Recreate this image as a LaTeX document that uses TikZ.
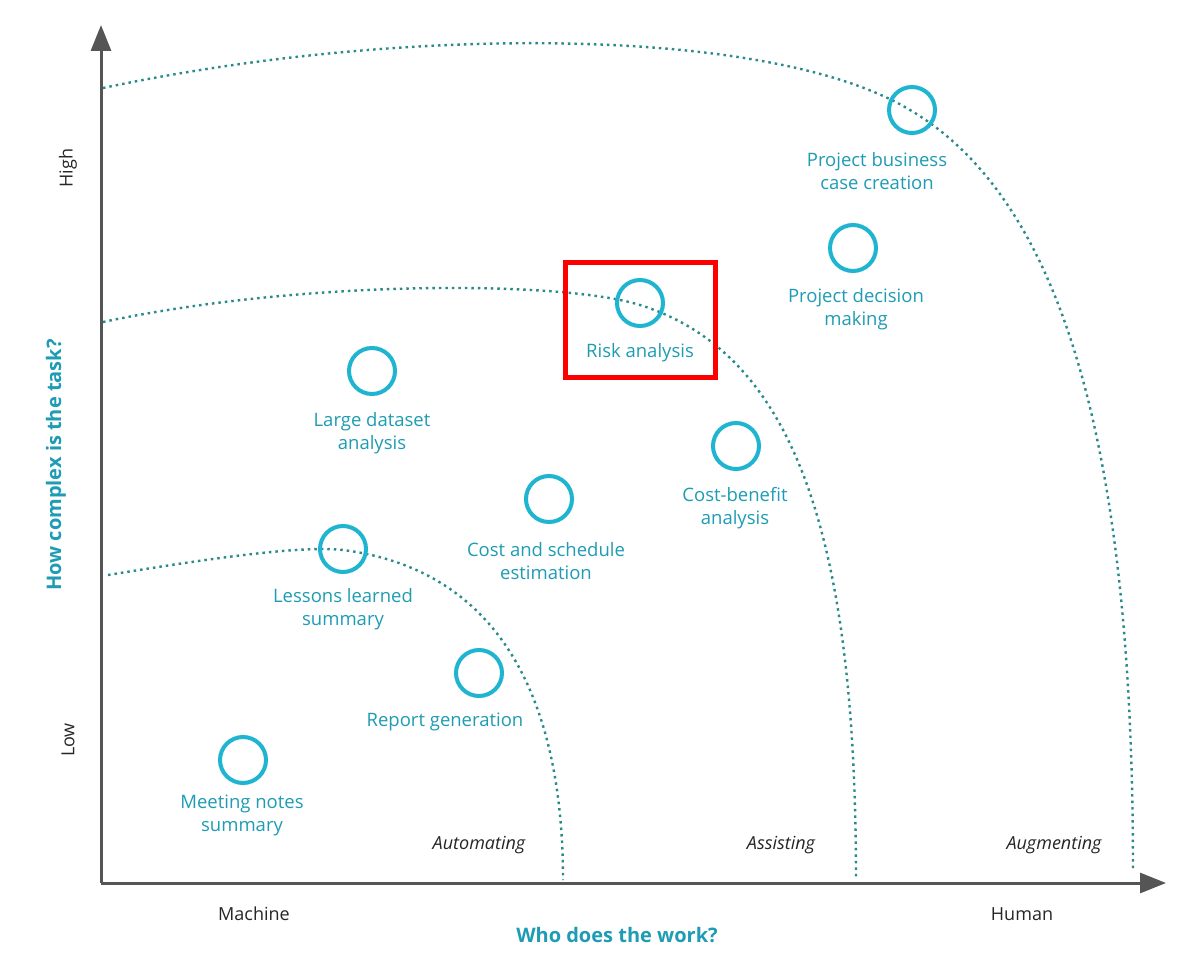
\documentclass[tikz,border=0pt]{standalone}
\usepackage{fontspec}
\setmainfont{Open Sans}
\usetikzlibrary{arrows.meta}
\definecolor{teal1}{HTML}{1FB5D0}
\definecolor{teal2}{HTML}{1E9CB4}
\definecolor{dotc}{HTML}{2A8A8A}
\definecolor{axc}{HTML}{555555}
\tikzset{
 dot/.style={circle,draw=teal1,line width=4pt,minimum size=46pt,inner sep=0pt},
 lbl/.style={text=teal2,font=\fontsize{18.5}{23}\selectfont,align=center},
 zone/.style={font=\itshape\fontsize{18}{20}\selectfont,text=black!85},
 ax/.style={font=\fontsize{18}{20}\selectfont,text=black!85},
 curve/.style={dotc,line width=2.4pt,dash pattern=on 2.5pt off 4pt},
}
\begin{document}
\begin{tikzpicture}[x=1pt,y=-1pt]
\useasboundingbox[fill=white] (0,0) rectangle (1200,958);
\draw[curve] (103,88) .. controls (400,25) and (770,25) .. (910,110) .. controls (1080,210) and (1133,500) .. (1133,870);
\draw[curve] (103,322) .. controls (300,280) and (560,280) .. (640,305) .. controls (800,355) and (856,550) .. (856,880);
\draw[curve] (108,575) .. controls (200,560) and (300,545) .. (343,550) .. controls (500,570) and (563,700) .. (563,880);
\coordinate (o) at (101,883);
\coordinate (yt) at (101,25);
\coordinate (xr) at (1166,883);
\draw[axc,line width=3pt,-{Triangle[length=26pt,width=20pt]}] (o) -- (yt);
\draw[axc,line width=3pt,-{Triangle[length=26pt,width=20pt]}] (o) -- (xr);
\node[dot] (d1) at (912,110) {};
\node[dot] (d2) at (853,248) {};
\node[dot] (d3) at (640,303) {};
\node[dot] (d4) at (372,371) {};
\node[dot] (d5) at (736,446) {};
\node[dot] (d6) at (549,499) {};
\node[dot] (d7) at (343,549) {};
\node[dot] (d8) at (479,673) {};
\node[dot] (d9) at (243,760) {};
\node[lbl] (l1) at (877,171) {Project business\\case creation};
\node[lbl] (l2) at (856,309) {Project decision\\making};
\node[lbl] (l3) at (640,353) {Risk analysis};
\node[lbl] (l4) at (372,433) {Large dataset\\analysis};
\node[lbl] (l5) at (735,508) {Cost-benefit\\analysis};
\node[lbl] (l6) at (546,561) {Cost and schedule\\estimation};
\node[lbl] (l7) at (343,609) {Lessons learned\\summary};
\node[lbl] (l8) at (445,722) {Report generation};
\node[lbl] (l9) at (242,815) {Meeting notes\\summary};
\draw[red,line width=5pt] (565,262) rectangle (715,377);
\node[zone] (z1) at (479,845) {Automating};
\node[zone] (z2) at (781,845) {Assisting};
\node[zone] (z3) at (1054,845) {Augmenting};
\node[ax] (m) at (254,914) {Machine};
\node[ax] (h) at (1022,914) {Human};
\node[text=teal2,font=\bfseries\fontsize{20}{22}\selectfont] (xw) at (617,935) {Who does the work?};
\node[ax,rotate=90] (hi) at (68,168) {High};
\node[ax,rotate=90] (lo) at (68,740) {Low};
\node[text=teal2,font=\bfseries\fontsize{20}{22}\selectfont,rotate=90] (yw) at (56,465) {How complex is the task?};
\end{tikzpicture}
\end{document}
